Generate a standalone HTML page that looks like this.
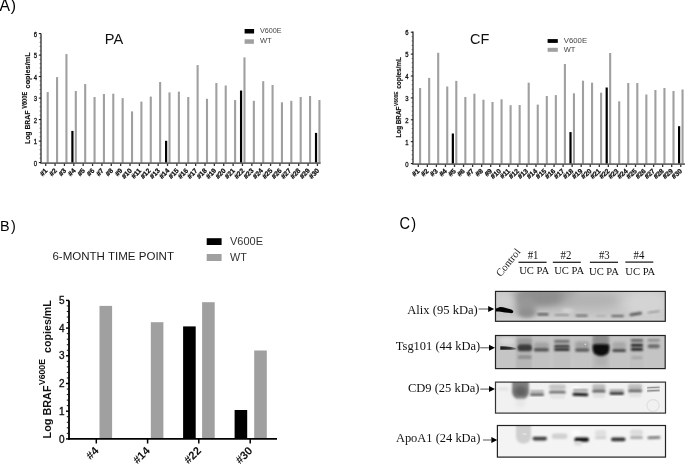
<!DOCTYPE html>
<html><head><meta charset="utf-8"><style>
html,body{margin:0;padding:0;background:#fff;}
svg{display:block;will-change:transform;}
text{font-family:"Liberation Sans", sans-serif;}
.serif{font-family:"Liberation Serif", serif;}
</style></head><body>
<svg width="685" height="464" viewBox="0 0 685 464">
<defs>
<filter id="b05" x="-50%" y="-50%" width="200%" height="200%"><feGaussianBlur stdDeviation="0.5"/></filter>
<filter id="b08" x="-50%" y="-50%" width="200%" height="200%"><feGaussianBlur stdDeviation="0.8"/></filter>
<filter id="b1" x="-50%" y="-50%" width="200%" height="200%"><feGaussianBlur stdDeviation="1"/></filter>
<filter id="b15" x="-50%" y="-50%" width="200%" height="200%"><feGaussianBlur stdDeviation="1.5"/></filter>
<filter id="b2" x="-50%" y="-50%" width="200%" height="200%"><feGaussianBlur stdDeviation="2"/></filter>
<filter id="b3" x="-50%" y="-50%" width="200%" height="200%"><feGaussianBlur stdDeviation="3"/></filter>
<filter id="b5" x="-50%" y="-50%" width="200%" height="200%"><feGaussianBlur stdDeviation="5"/></filter>
</defs>
<rect width="685" height="464" fill="#fff"/>

<text x="-0.6" y="10.7" font-size="15.8" letter-spacing="0.9" fill="#000">A)</text>
<text x="0" y="0" font-size="14.4" letter-spacing="1.4" fill="#000" transform="translate(0 231.1) scale(1 1.06)">B)</text>
<text x="0" y="0" font-size="14.6" letter-spacing="1.2" fill="#000" transform="translate(399.6 229.0) scale(1 1.07)">C)</text>
<rect x="46.65" y="92.06" width="2.1" height="71.14" fill="#a0a0a0"/>
<rect x="56.02" y="77.10" width="2.1" height="86.10" fill="#a0a0a0"/>
<rect x="65.39" y="54.05" width="2.1" height="109.15" fill="#a0a0a0"/>
<rect x="74.76" y="91.00" width="2.1" height="72.20" fill="#a0a0a0"/>
<rect x="84.13" y="84.06" width="2.1" height="79.14" fill="#a0a0a0"/>
<rect x="93.50" y="97.00" width="2.1" height="66.20" fill="#a0a0a0"/>
<rect x="102.87" y="94.00" width="2.1" height="69.20" fill="#a0a0a0"/>
<rect x="112.24" y="93.70" width="2.1" height="69.50" fill="#a0a0a0"/>
<rect x="121.61" y="98.10" width="2.1" height="65.10" fill="#a0a0a0"/>
<rect x="130.98" y="111.40" width="2.1" height="51.80" fill="#a0a0a0"/>
<rect x="140.35" y="101.60" width="2.1" height="61.60" fill="#a0a0a0"/>
<rect x="149.72" y="96.60" width="2.1" height="66.60" fill="#a0a0a0"/>
<rect x="159.09" y="82.00" width="2.1" height="81.20" fill="#a0a0a0"/>
<rect x="168.46" y="92.40" width="2.1" height="70.80" fill="#a0a0a0"/>
<rect x="177.83" y="91.60" width="2.1" height="71.60" fill="#a0a0a0"/>
<rect x="187.20" y="97.00" width="2.1" height="66.20" fill="#a0a0a0"/>
<rect x="196.57" y="65.10" width="2.1" height="98.10" fill="#a0a0a0"/>
<rect x="205.94" y="98.80" width="2.1" height="64.40" fill="#a0a0a0"/>
<rect x="215.31" y="83.00" width="2.1" height="80.20" fill="#a0a0a0"/>
<rect x="224.68" y="85.50" width="2.1" height="77.70" fill="#a0a0a0"/>
<rect x="234.05" y="100.05" width="2.1" height="63.15" fill="#a0a0a0"/>
<rect x="243.42" y="57.40" width="2.1" height="105.80" fill="#a0a0a0"/>
<rect x="252.79" y="100.80" width="2.1" height="62.40" fill="#a0a0a0"/>
<rect x="262.16" y="81.20" width="2.1" height="82.00" fill="#a0a0a0"/>
<rect x="271.53" y="85.00" width="2.1" height="78.20" fill="#a0a0a0"/>
<rect x="280.90" y="102.30" width="2.1" height="60.90" fill="#a0a0a0"/>
<rect x="290.27" y="100.80" width="2.1" height="62.40" fill="#a0a0a0"/>
<rect x="299.64" y="97.00" width="2.1" height="66.20" fill="#a0a0a0"/>
<rect x="309.01" y="96.00" width="2.1" height="67.20" fill="#a0a0a0"/>
<rect x="318.38" y="100.05" width="2.1" height="63.15" fill="#a0a0a0"/>
<rect x="71.31" y="130.90" width="2.2" height="32.30" fill="#000"/>
<rect x="165.01" y="140.80" width="2.2" height="22.40" fill="#000"/>
<rect x="239.97" y="90.55" width="2.2" height="72.65" fill="#000"/>
<rect x="314.93" y="132.90" width="2.2" height="30.30" fill="#000"/>
<line x1="41.0" y1="33.4" x2="41.0" y2="163.2" stroke="#1a1a1a" stroke-width="1.2"/>
<line x1="40.4" y1="163.2" x2="320.6" y2="163.2" stroke="#6a6a6a" stroke-width="1.7"/>
<line x1="38.8" y1="162.60" x2="41.0" y2="162.60" stroke="#111" stroke-width="1"/>
<text x="37.0" y="165.50" font-size="7.0" text-anchor="end" fill="#111" stroke="#111" stroke-width="0.3" textLength="3.3" lengthAdjust="spacingAndGlyphs">0</text>
<line x1="39.6" y1="158.30" x2="41.0" y2="158.30" stroke="#444" stroke-width="0.7"/>
<line x1="39.6" y1="154.00" x2="41.0" y2="154.00" stroke="#444" stroke-width="0.7"/>
<line x1="39.6" y1="149.70" x2="41.0" y2="149.70" stroke="#444" stroke-width="0.7"/>
<line x1="39.6" y1="145.40" x2="41.0" y2="145.40" stroke="#444" stroke-width="0.7"/>
<line x1="38.8" y1="141.10" x2="41.0" y2="141.10" stroke="#111" stroke-width="1"/>
<text x="37.0" y="144.00" font-size="7.0" text-anchor="end" fill="#111" stroke="#111" stroke-width="0.3" textLength="3.3" lengthAdjust="spacingAndGlyphs">1</text>
<line x1="39.6" y1="136.80" x2="41.0" y2="136.80" stroke="#444" stroke-width="0.7"/>
<line x1="39.6" y1="132.50" x2="41.0" y2="132.50" stroke="#444" stroke-width="0.7"/>
<line x1="39.6" y1="128.20" x2="41.0" y2="128.20" stroke="#444" stroke-width="0.7"/>
<line x1="39.6" y1="123.90" x2="41.0" y2="123.90" stroke="#444" stroke-width="0.7"/>
<line x1="38.8" y1="119.60" x2="41.0" y2="119.60" stroke="#111" stroke-width="1"/>
<text x="37.0" y="122.50" font-size="7.0" text-anchor="end" fill="#111" stroke="#111" stroke-width="0.3" textLength="3.3" lengthAdjust="spacingAndGlyphs">2</text>
<line x1="39.6" y1="115.30" x2="41.0" y2="115.30" stroke="#444" stroke-width="0.7"/>
<line x1="39.6" y1="111.00" x2="41.0" y2="111.00" stroke="#444" stroke-width="0.7"/>
<line x1="39.6" y1="106.70" x2="41.0" y2="106.70" stroke="#444" stroke-width="0.7"/>
<line x1="39.6" y1="102.40" x2="41.0" y2="102.40" stroke="#444" stroke-width="0.7"/>
<line x1="38.8" y1="98.10" x2="41.0" y2="98.10" stroke="#111" stroke-width="1"/>
<text x="37.0" y="101.00" font-size="7.0" text-anchor="end" fill="#111" stroke="#111" stroke-width="0.3" textLength="3.3" lengthAdjust="spacingAndGlyphs">3</text>
<line x1="39.6" y1="93.80" x2="41.0" y2="93.80" stroke="#444" stroke-width="0.7"/>
<line x1="39.6" y1="89.50" x2="41.0" y2="89.50" stroke="#444" stroke-width="0.7"/>
<line x1="39.6" y1="85.20" x2="41.0" y2="85.20" stroke="#444" stroke-width="0.7"/>
<line x1="39.6" y1="80.90" x2="41.0" y2="80.90" stroke="#444" stroke-width="0.7"/>
<line x1="38.8" y1="76.60" x2="41.0" y2="76.60" stroke="#111" stroke-width="1"/>
<text x="37.0" y="79.50" font-size="7.0" text-anchor="end" fill="#111" stroke="#111" stroke-width="0.3" textLength="3.3" lengthAdjust="spacingAndGlyphs">4</text>
<line x1="39.6" y1="72.30" x2="41.0" y2="72.30" stroke="#444" stroke-width="0.7"/>
<line x1="39.6" y1="68.00" x2="41.0" y2="68.00" stroke="#444" stroke-width="0.7"/>
<line x1="39.6" y1="63.70" x2="41.0" y2="63.70" stroke="#444" stroke-width="0.7"/>
<line x1="39.6" y1="59.40" x2="41.0" y2="59.40" stroke="#444" stroke-width="0.7"/>
<line x1="38.8" y1="55.10" x2="41.0" y2="55.10" stroke="#111" stroke-width="1"/>
<text x="37.0" y="58.00" font-size="7.0" text-anchor="end" fill="#111" stroke="#111" stroke-width="0.3" textLength="3.3" lengthAdjust="spacingAndGlyphs">5</text>
<line x1="39.6" y1="50.80" x2="41.0" y2="50.80" stroke="#444" stroke-width="0.7"/>
<line x1="39.6" y1="46.50" x2="41.0" y2="46.50" stroke="#444" stroke-width="0.7"/>
<line x1="39.6" y1="42.20" x2="41.0" y2="42.20" stroke="#444" stroke-width="0.7"/>
<line x1="39.6" y1="37.90" x2="41.0" y2="37.90" stroke="#444" stroke-width="0.7"/>
<line x1="38.8" y1="33.60" x2="41.0" y2="33.60" stroke="#111" stroke-width="1"/>
<text x="37.0" y="36.50" font-size="7.0" text-anchor="end" fill="#111" stroke="#111" stroke-width="0.3" textLength="3.3" lengthAdjust="spacingAndGlyphs">6</text>
<line x1="45.70" y1="163.6" x2="45.70" y2="166.0" stroke="#333" stroke-width="1.3"/>
<text x="48.00" y="171.10" font-size="6.8" font-weight="bold" text-anchor="end" fill="#111" stroke="#111" stroke-width="0.25" transform="rotate(-46 48.00 171.10)">#1</text>
<line x1="55.07" y1="163.6" x2="55.07" y2="166.0" stroke="#333" stroke-width="1.3"/>
<text x="57.37" y="171.10" font-size="6.8" font-weight="bold" text-anchor="end" fill="#111" stroke="#111" stroke-width="0.25" transform="rotate(-46 57.37 171.10)">#2</text>
<line x1="64.44" y1="163.6" x2="64.44" y2="166.0" stroke="#333" stroke-width="1.3"/>
<text x="66.74" y="171.10" font-size="6.8" font-weight="bold" text-anchor="end" fill="#111" stroke="#111" stroke-width="0.25" transform="rotate(-46 66.74 171.10)">#3</text>
<line x1="73.81" y1="163.6" x2="73.81" y2="166.0" stroke="#333" stroke-width="1.3"/>
<text x="76.11" y="171.10" font-size="6.8" font-weight="bold" text-anchor="end" fill="#111" stroke="#111" stroke-width="0.25" transform="rotate(-46 76.11 171.10)">#4</text>
<line x1="83.18" y1="163.6" x2="83.18" y2="166.0" stroke="#333" stroke-width="1.3"/>
<text x="85.48" y="171.10" font-size="6.8" font-weight="bold" text-anchor="end" fill="#111" stroke="#111" stroke-width="0.25" transform="rotate(-46 85.48 171.10)">#5</text>
<line x1="92.55" y1="163.6" x2="92.55" y2="166.0" stroke="#333" stroke-width="1.3"/>
<text x="94.85" y="171.10" font-size="6.8" font-weight="bold" text-anchor="end" fill="#111" stroke="#111" stroke-width="0.25" transform="rotate(-46 94.85 171.10)">#6</text>
<line x1="101.92" y1="163.6" x2="101.92" y2="166.0" stroke="#333" stroke-width="1.3"/>
<text x="104.22" y="171.10" font-size="6.8" font-weight="bold" text-anchor="end" fill="#111" stroke="#111" stroke-width="0.25" transform="rotate(-46 104.22 171.10)">#7</text>
<line x1="111.29" y1="163.6" x2="111.29" y2="166.0" stroke="#333" stroke-width="1.3"/>
<text x="113.59" y="171.10" font-size="6.8" font-weight="bold" text-anchor="end" fill="#111" stroke="#111" stroke-width="0.25" transform="rotate(-46 113.59 171.10)">#8</text>
<line x1="120.66" y1="163.6" x2="120.66" y2="166.0" stroke="#333" stroke-width="1.3"/>
<text x="122.96" y="171.10" font-size="6.8" font-weight="bold" text-anchor="end" fill="#111" stroke="#111" stroke-width="0.25" transform="rotate(-46 122.96 171.10)">#9</text>
<line x1="130.03" y1="163.6" x2="130.03" y2="166.0" stroke="#333" stroke-width="1.3"/>
<text x="132.33" y="171.10" font-size="6.8" font-weight="bold" text-anchor="end" fill="#111" stroke="#111" stroke-width="0.25" transform="rotate(-46 132.33 171.10)">#10</text>
<line x1="139.40" y1="163.6" x2="139.40" y2="166.0" stroke="#333" stroke-width="1.3"/>
<text x="141.70" y="171.10" font-size="6.8" font-weight="bold" text-anchor="end" fill="#111" stroke="#111" stroke-width="0.25" transform="rotate(-46 141.70 171.10)">#11</text>
<line x1="148.77" y1="163.6" x2="148.77" y2="166.0" stroke="#333" stroke-width="1.3"/>
<text x="151.07" y="171.10" font-size="6.8" font-weight="bold" text-anchor="end" fill="#111" stroke="#111" stroke-width="0.25" transform="rotate(-46 151.07 171.10)">#12</text>
<line x1="158.14" y1="163.6" x2="158.14" y2="166.0" stroke="#333" stroke-width="1.3"/>
<text x="160.44" y="171.10" font-size="6.8" font-weight="bold" text-anchor="end" fill="#111" stroke="#111" stroke-width="0.25" transform="rotate(-46 160.44 171.10)">#13</text>
<line x1="167.51" y1="163.6" x2="167.51" y2="166.0" stroke="#333" stroke-width="1.3"/>
<text x="169.81" y="171.10" font-size="6.8" font-weight="bold" text-anchor="end" fill="#111" stroke="#111" stroke-width="0.25" transform="rotate(-46 169.81 171.10)">#14</text>
<line x1="176.88" y1="163.6" x2="176.88" y2="166.0" stroke="#333" stroke-width="1.3"/>
<text x="179.18" y="171.10" font-size="6.8" font-weight="bold" text-anchor="end" fill="#111" stroke="#111" stroke-width="0.25" transform="rotate(-46 179.18 171.10)">#15</text>
<line x1="186.25" y1="163.6" x2="186.25" y2="166.0" stroke="#333" stroke-width="1.3"/>
<text x="188.55" y="171.10" font-size="6.8" font-weight="bold" text-anchor="end" fill="#111" stroke="#111" stroke-width="0.25" transform="rotate(-46 188.55 171.10)">#16</text>
<line x1="195.62" y1="163.6" x2="195.62" y2="166.0" stroke="#333" stroke-width="1.3"/>
<text x="197.92" y="171.10" font-size="6.8" font-weight="bold" text-anchor="end" fill="#111" stroke="#111" stroke-width="0.25" transform="rotate(-46 197.92 171.10)">#17</text>
<line x1="204.99" y1="163.6" x2="204.99" y2="166.0" stroke="#333" stroke-width="1.3"/>
<text x="207.29" y="171.10" font-size="6.8" font-weight="bold" text-anchor="end" fill="#111" stroke="#111" stroke-width="0.25" transform="rotate(-46 207.29 171.10)">#18</text>
<line x1="214.36" y1="163.6" x2="214.36" y2="166.0" stroke="#333" stroke-width="1.3"/>
<text x="216.66" y="171.10" font-size="6.8" font-weight="bold" text-anchor="end" fill="#111" stroke="#111" stroke-width="0.25" transform="rotate(-46 216.66 171.10)">#19</text>
<line x1="223.73" y1="163.6" x2="223.73" y2="166.0" stroke="#333" stroke-width="1.3"/>
<text x="226.03" y="171.10" font-size="6.8" font-weight="bold" text-anchor="end" fill="#111" stroke="#111" stroke-width="0.25" transform="rotate(-46 226.03 171.10)">#20</text>
<line x1="233.10" y1="163.6" x2="233.10" y2="166.0" stroke="#333" stroke-width="1.3"/>
<text x="235.40" y="171.10" font-size="6.8" font-weight="bold" text-anchor="end" fill="#111" stroke="#111" stroke-width="0.25" transform="rotate(-46 235.40 171.10)">#21</text>
<line x1="242.47" y1="163.6" x2="242.47" y2="166.0" stroke="#333" stroke-width="1.3"/>
<text x="244.77" y="171.10" font-size="6.8" font-weight="bold" text-anchor="end" fill="#111" stroke="#111" stroke-width="0.25" transform="rotate(-46 244.77 171.10)">#22</text>
<line x1="251.84" y1="163.6" x2="251.84" y2="166.0" stroke="#333" stroke-width="1.3"/>
<text x="254.14" y="171.10" font-size="6.8" font-weight="bold" text-anchor="end" fill="#111" stroke="#111" stroke-width="0.25" transform="rotate(-46 254.14 171.10)">#23</text>
<line x1="261.21" y1="163.6" x2="261.21" y2="166.0" stroke="#333" stroke-width="1.3"/>
<text x="263.51" y="171.10" font-size="6.8" font-weight="bold" text-anchor="end" fill="#111" stroke="#111" stroke-width="0.25" transform="rotate(-46 263.51 171.10)">#24</text>
<line x1="270.58" y1="163.6" x2="270.58" y2="166.0" stroke="#333" stroke-width="1.3"/>
<text x="272.88" y="171.10" font-size="6.8" font-weight="bold" text-anchor="end" fill="#111" stroke="#111" stroke-width="0.25" transform="rotate(-46 272.88 171.10)">#25</text>
<line x1="279.95" y1="163.6" x2="279.95" y2="166.0" stroke="#333" stroke-width="1.3"/>
<text x="282.25" y="171.10" font-size="6.8" font-weight="bold" text-anchor="end" fill="#111" stroke="#111" stroke-width="0.25" transform="rotate(-46 282.25 171.10)">#26</text>
<line x1="289.32" y1="163.6" x2="289.32" y2="166.0" stroke="#333" stroke-width="1.3"/>
<text x="291.62" y="171.10" font-size="6.8" font-weight="bold" text-anchor="end" fill="#111" stroke="#111" stroke-width="0.25" transform="rotate(-46 291.62 171.10)">#27</text>
<line x1="298.69" y1="163.6" x2="298.69" y2="166.0" stroke="#333" stroke-width="1.3"/>
<text x="300.99" y="171.10" font-size="6.8" font-weight="bold" text-anchor="end" fill="#111" stroke="#111" stroke-width="0.25" transform="rotate(-46 300.99 171.10)">#28</text>
<line x1="308.06" y1="163.6" x2="308.06" y2="166.0" stroke="#333" stroke-width="1.3"/>
<text x="310.36" y="171.10" font-size="6.8" font-weight="bold" text-anchor="end" fill="#111" stroke="#111" stroke-width="0.25" transform="rotate(-46 310.36 171.10)">#29</text>
<line x1="317.43" y1="163.6" x2="317.43" y2="166.0" stroke="#333" stroke-width="1.3"/>
<text x="319.73" y="171.10" font-size="6.8" font-weight="bold" text-anchor="end" fill="#111" stroke="#111" stroke-width="0.25" transform="rotate(-46 319.73 171.10)">#30</text>
<text x="0" y="0" font-size="7.8" font-weight="bold" fill="#111" stroke="#111" stroke-width="0.15" textLength="33.30" lengthAdjust="spacingAndGlyphs" transform="translate(30.4 144.0) rotate(-90)">Log BRAF</text>
<text x="0" y="0" font-size="6.6" font-weight="bold" fill="#111" stroke="#111" stroke-width="0.12" textLength="17.00" lengthAdjust="spacingAndGlyphs" transform="translate(27.1 108.8) rotate(-90)">V600E</text>
<text x="0" y="0" font-size="7.8" font-weight="bold" fill="#111" stroke="#111" stroke-width="0.15" textLength="36.00" lengthAdjust="spacingAndGlyphs" transform="translate(30.4 88.4) rotate(-90)">copies/mL</text>
<rect x="419.05" y="88.00" width="2.1" height="76.20" fill="#a0a0a0"/>
<rect x="428.10" y="77.90" width="2.1" height="86.30" fill="#a0a0a0"/>
<rect x="437.15" y="52.80" width="2.1" height="111.40" fill="#a0a0a0"/>
<rect x="446.20" y="86.50" width="2.1" height="77.70" fill="#a0a0a0"/>
<rect x="455.25" y="80.90" width="2.1" height="83.30" fill="#a0a0a0"/>
<rect x="464.30" y="97.00" width="2.1" height="67.20" fill="#a0a0a0"/>
<rect x="473.35" y="93.70" width="2.1" height="70.50" fill="#a0a0a0"/>
<rect x="482.40" y="99.75" width="2.1" height="64.45" fill="#a0a0a0"/>
<rect x="491.45" y="102.00" width="2.1" height="62.20" fill="#a0a0a0"/>
<rect x="500.50" y="99.30" width="2.1" height="64.90" fill="#a0a0a0"/>
<rect x="509.55" y="105.20" width="2.1" height="59.00" fill="#a0a0a0"/>
<rect x="518.60" y="105.00" width="2.1" height="59.20" fill="#a0a0a0"/>
<rect x="527.65" y="82.70" width="2.1" height="81.50" fill="#a0a0a0"/>
<rect x="536.70" y="104.60" width="2.1" height="59.60" fill="#a0a0a0"/>
<rect x="545.75" y="96.00" width="2.1" height="68.20" fill="#a0a0a0"/>
<rect x="554.80" y="95.10" width="2.1" height="69.10" fill="#a0a0a0"/>
<rect x="563.85" y="64.00" width="2.1" height="100.20" fill="#a0a0a0"/>
<rect x="572.90" y="93.30" width="2.1" height="70.90" fill="#a0a0a0"/>
<rect x="581.95" y="80.70" width="2.1" height="83.50" fill="#a0a0a0"/>
<rect x="591.00" y="82.70" width="2.1" height="81.50" fill="#a0a0a0"/>
<rect x="600.05" y="92.70" width="2.1" height="71.50" fill="#a0a0a0"/>
<rect x="609.10" y="53.00" width="2.1" height="111.20" fill="#a0a0a0"/>
<rect x="618.15" y="101.30" width="2.1" height="62.90" fill="#a0a0a0"/>
<rect x="627.20" y="83.00" width="2.1" height="81.20" fill="#a0a0a0"/>
<rect x="636.25" y="83.00" width="2.1" height="81.20" fill="#a0a0a0"/>
<rect x="645.30" y="94.50" width="2.1" height="69.70" fill="#a0a0a0"/>
<rect x="654.35" y="90.00" width="2.1" height="74.20" fill="#a0a0a0"/>
<rect x="663.40" y="88.00" width="2.1" height="76.20" fill="#a0a0a0"/>
<rect x="672.45" y="91.00" width="2.1" height="73.20" fill="#a0a0a0"/>
<rect x="681.50" y="89.50" width="2.1" height="74.70" fill="#a0a0a0"/>
<rect x="451.75" y="133.50" width="2.2" height="30.70" fill="#000"/>
<rect x="569.40" y="132.10" width="2.2" height="32.10" fill="#000"/>
<rect x="605.60" y="87.50" width="2.2" height="76.70" fill="#000"/>
<rect x="678.00" y="126.20" width="2.2" height="38.00" fill="#000"/>
<line x1="413.0" y1="31.6" x2="413.0" y2="164.2" stroke="#1a1a1a" stroke-width="1.2"/>
<line x1="412.4" y1="164.2" x2="686" y2="164.2" stroke="#6a6a6a" stroke-width="1.7"/>
<line x1="410.8" y1="163.60" x2="413.0" y2="163.60" stroke="#111" stroke-width="1"/>
<text x="408.6" y="166.50" font-size="7.0" text-anchor="end" fill="#111" stroke="#111" stroke-width="0.3" textLength="3.3" lengthAdjust="spacingAndGlyphs">0</text>
<line x1="411.6" y1="159.22" x2="413.0" y2="159.22" stroke="#444" stroke-width="0.7"/>
<line x1="411.6" y1="154.84" x2="413.0" y2="154.84" stroke="#444" stroke-width="0.7"/>
<line x1="411.6" y1="150.46" x2="413.0" y2="150.46" stroke="#444" stroke-width="0.7"/>
<line x1="411.6" y1="146.08" x2="413.0" y2="146.08" stroke="#444" stroke-width="0.7"/>
<line x1="410.8" y1="141.70" x2="413.0" y2="141.70" stroke="#111" stroke-width="1"/>
<text x="408.6" y="144.60" font-size="7.0" text-anchor="end" fill="#111" stroke="#111" stroke-width="0.3" textLength="3.3" lengthAdjust="spacingAndGlyphs">1</text>
<line x1="411.6" y1="137.32" x2="413.0" y2="137.32" stroke="#444" stroke-width="0.7"/>
<line x1="411.6" y1="132.94" x2="413.0" y2="132.94" stroke="#444" stroke-width="0.7"/>
<line x1="411.6" y1="128.56" x2="413.0" y2="128.56" stroke="#444" stroke-width="0.7"/>
<line x1="411.6" y1="124.18" x2="413.0" y2="124.18" stroke="#444" stroke-width="0.7"/>
<line x1="410.8" y1="119.80" x2="413.0" y2="119.80" stroke="#111" stroke-width="1"/>
<text x="408.6" y="122.70" font-size="7.0" text-anchor="end" fill="#111" stroke="#111" stroke-width="0.3" textLength="3.3" lengthAdjust="spacingAndGlyphs">2</text>
<line x1="411.6" y1="115.42" x2="413.0" y2="115.42" stroke="#444" stroke-width="0.7"/>
<line x1="411.6" y1="111.04" x2="413.0" y2="111.04" stroke="#444" stroke-width="0.7"/>
<line x1="411.6" y1="106.66" x2="413.0" y2="106.66" stroke="#444" stroke-width="0.7"/>
<line x1="411.6" y1="102.28" x2="413.0" y2="102.28" stroke="#444" stroke-width="0.7"/>
<line x1="410.8" y1="97.90" x2="413.0" y2="97.90" stroke="#111" stroke-width="1"/>
<text x="408.6" y="100.80" font-size="7.0" text-anchor="end" fill="#111" stroke="#111" stroke-width="0.3" textLength="3.3" lengthAdjust="spacingAndGlyphs">3</text>
<line x1="411.6" y1="93.52" x2="413.0" y2="93.52" stroke="#444" stroke-width="0.7"/>
<line x1="411.6" y1="89.14" x2="413.0" y2="89.14" stroke="#444" stroke-width="0.7"/>
<line x1="411.6" y1="84.76" x2="413.0" y2="84.76" stroke="#444" stroke-width="0.7"/>
<line x1="411.6" y1="80.38" x2="413.0" y2="80.38" stroke="#444" stroke-width="0.7"/>
<line x1="410.8" y1="76.00" x2="413.0" y2="76.00" stroke="#111" stroke-width="1"/>
<text x="408.6" y="78.90" font-size="7.0" text-anchor="end" fill="#111" stroke="#111" stroke-width="0.3" textLength="3.3" lengthAdjust="spacingAndGlyphs">4</text>
<line x1="411.6" y1="71.62" x2="413.0" y2="71.62" stroke="#444" stroke-width="0.7"/>
<line x1="411.6" y1="67.24" x2="413.0" y2="67.24" stroke="#444" stroke-width="0.7"/>
<line x1="411.6" y1="62.86" x2="413.0" y2="62.86" stroke="#444" stroke-width="0.7"/>
<line x1="411.6" y1="58.48" x2="413.0" y2="58.48" stroke="#444" stroke-width="0.7"/>
<line x1="410.8" y1="54.10" x2="413.0" y2="54.10" stroke="#111" stroke-width="1"/>
<text x="408.6" y="57.00" font-size="7.0" text-anchor="end" fill="#111" stroke="#111" stroke-width="0.3" textLength="3.3" lengthAdjust="spacingAndGlyphs">5</text>
<line x1="411.6" y1="49.72" x2="413.0" y2="49.72" stroke="#444" stroke-width="0.7"/>
<line x1="411.6" y1="45.34" x2="413.0" y2="45.34" stroke="#444" stroke-width="0.7"/>
<line x1="411.6" y1="40.96" x2="413.0" y2="40.96" stroke="#444" stroke-width="0.7"/>
<line x1="411.6" y1="36.58" x2="413.0" y2="36.58" stroke="#444" stroke-width="0.7"/>
<line x1="410.8" y1="32.20" x2="413.0" y2="32.20" stroke="#111" stroke-width="1"/>
<text x="408.6" y="35.10" font-size="7.0" text-anchor="end" fill="#111" stroke="#111" stroke-width="0.3" textLength="3.3" lengthAdjust="spacingAndGlyphs">6</text>
<line x1="418.30" y1="164.6" x2="418.30" y2="167.0" stroke="#333" stroke-width="1.3"/>
<text x="420.10" y="171.60" font-size="6.8" font-weight="bold" text-anchor="end" fill="#111" stroke="#111" stroke-width="0.25" transform="rotate(-42 420.10 171.60)">#1</text>
<line x1="427.35" y1="164.6" x2="427.35" y2="167.0" stroke="#333" stroke-width="1.3"/>
<text x="429.15" y="171.60" font-size="6.8" font-weight="bold" text-anchor="end" fill="#111" stroke="#111" stroke-width="0.25" transform="rotate(-42 429.15 171.60)">#2</text>
<line x1="436.40" y1="164.6" x2="436.40" y2="167.0" stroke="#333" stroke-width="1.3"/>
<text x="438.20" y="171.60" font-size="6.8" font-weight="bold" text-anchor="end" fill="#111" stroke="#111" stroke-width="0.25" transform="rotate(-42 438.20 171.60)">#3</text>
<line x1="445.45" y1="164.6" x2="445.45" y2="167.0" stroke="#333" stroke-width="1.3"/>
<text x="447.25" y="171.60" font-size="6.8" font-weight="bold" text-anchor="end" fill="#111" stroke="#111" stroke-width="0.25" transform="rotate(-42 447.25 171.60)">#4</text>
<line x1="454.50" y1="164.6" x2="454.50" y2="167.0" stroke="#333" stroke-width="1.3"/>
<text x="456.30" y="171.60" font-size="6.8" font-weight="bold" text-anchor="end" fill="#111" stroke="#111" stroke-width="0.25" transform="rotate(-42 456.30 171.60)">#5</text>
<line x1="463.55" y1="164.6" x2="463.55" y2="167.0" stroke="#333" stroke-width="1.3"/>
<text x="465.35" y="171.60" font-size="6.8" font-weight="bold" text-anchor="end" fill="#111" stroke="#111" stroke-width="0.25" transform="rotate(-42 465.35 171.60)">#6</text>
<line x1="472.60" y1="164.6" x2="472.60" y2="167.0" stroke="#333" stroke-width="1.3"/>
<text x="474.40" y="171.60" font-size="6.8" font-weight="bold" text-anchor="end" fill="#111" stroke="#111" stroke-width="0.25" transform="rotate(-42 474.40 171.60)">#7</text>
<line x1="481.65" y1="164.6" x2="481.65" y2="167.0" stroke="#333" stroke-width="1.3"/>
<text x="483.45" y="171.60" font-size="6.8" font-weight="bold" text-anchor="end" fill="#111" stroke="#111" stroke-width="0.25" transform="rotate(-42 483.45 171.60)">#8</text>
<line x1="490.70" y1="164.6" x2="490.70" y2="167.0" stroke="#333" stroke-width="1.3"/>
<text x="492.50" y="171.60" font-size="6.8" font-weight="bold" text-anchor="end" fill="#111" stroke="#111" stroke-width="0.25" transform="rotate(-42 492.50 171.60)">#9</text>
<line x1="499.75" y1="164.6" x2="499.75" y2="167.0" stroke="#333" stroke-width="1.3"/>
<text x="501.55" y="171.60" font-size="6.8" font-weight="bold" text-anchor="end" fill="#111" stroke="#111" stroke-width="0.25" transform="rotate(-42 501.55 171.60)">#10</text>
<line x1="508.80" y1="164.6" x2="508.80" y2="167.0" stroke="#333" stroke-width="1.3"/>
<text x="510.60" y="171.60" font-size="6.8" font-weight="bold" text-anchor="end" fill="#111" stroke="#111" stroke-width="0.25" transform="rotate(-42 510.60 171.60)">#11</text>
<line x1="517.85" y1="164.6" x2="517.85" y2="167.0" stroke="#333" stroke-width="1.3"/>
<text x="519.65" y="171.60" font-size="6.8" font-weight="bold" text-anchor="end" fill="#111" stroke="#111" stroke-width="0.25" transform="rotate(-42 519.65 171.60)">#12</text>
<line x1="526.90" y1="164.6" x2="526.90" y2="167.0" stroke="#333" stroke-width="1.3"/>
<text x="528.70" y="171.60" font-size="6.8" font-weight="bold" text-anchor="end" fill="#111" stroke="#111" stroke-width="0.25" transform="rotate(-42 528.70 171.60)">#13</text>
<line x1="535.95" y1="164.6" x2="535.95" y2="167.0" stroke="#333" stroke-width="1.3"/>
<text x="537.75" y="171.60" font-size="6.8" font-weight="bold" text-anchor="end" fill="#111" stroke="#111" stroke-width="0.25" transform="rotate(-42 537.75 171.60)">#14</text>
<line x1="545.00" y1="164.6" x2="545.00" y2="167.0" stroke="#333" stroke-width="1.3"/>
<text x="546.80" y="171.60" font-size="6.8" font-weight="bold" text-anchor="end" fill="#111" stroke="#111" stroke-width="0.25" transform="rotate(-42 546.80 171.60)">#15</text>
<line x1="554.05" y1="164.6" x2="554.05" y2="167.0" stroke="#333" stroke-width="1.3"/>
<text x="555.85" y="171.60" font-size="6.8" font-weight="bold" text-anchor="end" fill="#111" stroke="#111" stroke-width="0.25" transform="rotate(-42 555.85 171.60)">#16</text>
<line x1="563.10" y1="164.6" x2="563.10" y2="167.0" stroke="#333" stroke-width="1.3"/>
<text x="564.90" y="171.60" font-size="6.8" font-weight="bold" text-anchor="end" fill="#111" stroke="#111" stroke-width="0.25" transform="rotate(-42 564.90 171.60)">#17</text>
<line x1="572.15" y1="164.6" x2="572.15" y2="167.0" stroke="#333" stroke-width="1.3"/>
<text x="573.95" y="171.60" font-size="6.8" font-weight="bold" text-anchor="end" fill="#111" stroke="#111" stroke-width="0.25" transform="rotate(-42 573.95 171.60)">#18</text>
<line x1="581.20" y1="164.6" x2="581.20" y2="167.0" stroke="#333" stroke-width="1.3"/>
<text x="583.00" y="171.60" font-size="6.8" font-weight="bold" text-anchor="end" fill="#111" stroke="#111" stroke-width="0.25" transform="rotate(-42 583.00 171.60)">#19</text>
<line x1="590.25" y1="164.6" x2="590.25" y2="167.0" stroke="#333" stroke-width="1.3"/>
<text x="592.05" y="171.60" font-size="6.8" font-weight="bold" text-anchor="end" fill="#111" stroke="#111" stroke-width="0.25" transform="rotate(-42 592.05 171.60)">#20</text>
<line x1="599.30" y1="164.6" x2="599.30" y2="167.0" stroke="#333" stroke-width="1.3"/>
<text x="601.10" y="171.60" font-size="6.8" font-weight="bold" text-anchor="end" fill="#111" stroke="#111" stroke-width="0.25" transform="rotate(-42 601.10 171.60)">#21</text>
<line x1="608.35" y1="164.6" x2="608.35" y2="167.0" stroke="#333" stroke-width="1.3"/>
<text x="610.15" y="171.60" font-size="6.8" font-weight="bold" text-anchor="end" fill="#111" stroke="#111" stroke-width="0.25" transform="rotate(-42 610.15 171.60)">#22</text>
<line x1="617.40" y1="164.6" x2="617.40" y2="167.0" stroke="#333" stroke-width="1.3"/>
<text x="619.20" y="171.60" font-size="6.8" font-weight="bold" text-anchor="end" fill="#111" stroke="#111" stroke-width="0.25" transform="rotate(-42 619.20 171.60)">#23</text>
<line x1="626.45" y1="164.6" x2="626.45" y2="167.0" stroke="#333" stroke-width="1.3"/>
<text x="628.25" y="171.60" font-size="6.8" font-weight="bold" text-anchor="end" fill="#111" stroke="#111" stroke-width="0.25" transform="rotate(-42 628.25 171.60)">#24</text>
<line x1="635.50" y1="164.6" x2="635.50" y2="167.0" stroke="#333" stroke-width="1.3"/>
<text x="637.30" y="171.60" font-size="6.8" font-weight="bold" text-anchor="end" fill="#111" stroke="#111" stroke-width="0.25" transform="rotate(-42 637.30 171.60)">#25</text>
<line x1="644.55" y1="164.6" x2="644.55" y2="167.0" stroke="#333" stroke-width="1.3"/>
<text x="646.35" y="171.60" font-size="6.8" font-weight="bold" text-anchor="end" fill="#111" stroke="#111" stroke-width="0.25" transform="rotate(-42 646.35 171.60)">#26</text>
<line x1="653.60" y1="164.6" x2="653.60" y2="167.0" stroke="#333" stroke-width="1.3"/>
<text x="655.40" y="171.60" font-size="6.8" font-weight="bold" text-anchor="end" fill="#111" stroke="#111" stroke-width="0.25" transform="rotate(-42 655.40 171.60)">#27</text>
<line x1="662.65" y1="164.6" x2="662.65" y2="167.0" stroke="#333" stroke-width="1.3"/>
<text x="664.45" y="171.60" font-size="6.8" font-weight="bold" text-anchor="end" fill="#111" stroke="#111" stroke-width="0.25" transform="rotate(-42 664.45 171.60)">#28</text>
<line x1="671.70" y1="164.6" x2="671.70" y2="167.0" stroke="#333" stroke-width="1.3"/>
<text x="673.50" y="171.60" font-size="6.8" font-weight="bold" text-anchor="end" fill="#111" stroke="#111" stroke-width="0.25" transform="rotate(-42 673.50 171.60)">#29</text>
<line x1="680.75" y1="164.6" x2="680.75" y2="167.0" stroke="#333" stroke-width="1.3"/>
<text x="682.55" y="171.60" font-size="6.8" font-weight="bold" text-anchor="end" fill="#111" stroke="#111" stroke-width="0.25" transform="rotate(-42 682.55 171.60)">#30</text>
<text x="0" y="0" font-size="7.0" font-weight="bold" fill="#111" stroke="#111" stroke-width="0.15" textLength="31.00" lengthAdjust="spacingAndGlyphs" transform="translate(401.0 137.6) rotate(-90)">Log BRAF</text>
<text x="0" y="0" font-size="6.2" font-weight="bold" fill="#111" stroke="#111" stroke-width="0.12" textLength="14.50" lengthAdjust="spacingAndGlyphs" transform="translate(398.0 106.0) rotate(-90)">V600E</text>
<text x="0" y="0" font-size="7.0" font-weight="bold" fill="#111" stroke="#111" stroke-width="0.15" textLength="31.80" lengthAdjust="spacingAndGlyphs" transform="translate(401.0 88.8) rotate(-90)">copies/mL</text>
<text x="104.8" y="43.6" font-size="14.6" fill="#111">PA</text>
<text x="470.1" y="43.9" font-size="14.5" fill="#111">CF</text>
<rect x="244.6" y="29.0" width="9.5" height="4.5" fill="#000"/>
<rect x="244.6" y="39.3" width="9.3" height="4.5" fill="#a0a0a0"/>
<text x="259.9" y="33.1" font-size="7.6" fill="#444" textLength="21.7" lengthAdjust="spacingAndGlyphs">V600E</text>
<text x="259.9" y="43.3" font-size="7.6" fill="#444">WT</text>
<rect x="547.6" y="39.1" width="10.2" height="3.8" fill="#000"/>
<rect x="547.6" y="47.8" width="10.2" height="4.0" fill="#a0a0a0"/>
<text x="563.7" y="43.2" font-size="7.5" fill="#444" textLength="23.4" lengthAdjust="spacingAndGlyphs">V600E</text>
<text x="563.7" y="52.1" font-size="7.5" fill="#444">WT</text>
<rect x="99.50" y="305.9" width="12.6" height="133.00" fill="#a0a0a0"/>
<rect x="150.80" y="322.2" width="12.6" height="116.70" fill="#a0a0a0"/>
<rect x="202.10" y="302.2" width="12.6" height="136.70" fill="#a0a0a0"/>
<rect x="254.20" y="350.5" width="12.6" height="88.40" fill="#a0a0a0"/>
<rect x="183.10" y="326.4" width="12.6" height="112.50" fill="#000"/>
<rect x="234.60" y="410.0" width="12.6" height="28.90" fill="#000"/>
<line x1="69.0" y1="300.6" x2="69.0" y2="439.79999999999995" stroke="#000" stroke-width="1.8"/>
<line x1="68.1" y1="438.9" x2="277" y2="438.9" stroke="#000" stroke-width="1.7"/>
<line x1="66.0" y1="438.90" x2="69.0" y2="438.90" stroke="#000" stroke-width="1.4"/>
<text x="64.5" y="442.50" font-size="10" text-anchor="end" fill="#111" stroke="#111" stroke-width="0.35">0</text>
<line x1="66.8" y1="433.36" x2="69.0" y2="433.36" stroke="#111" stroke-width="1"/>
<line x1="66.8" y1="427.82" x2="69.0" y2="427.82" stroke="#111" stroke-width="1"/>
<line x1="66.8" y1="422.28" x2="69.0" y2="422.28" stroke="#111" stroke-width="1"/>
<line x1="66.8" y1="416.74" x2="69.0" y2="416.74" stroke="#111" stroke-width="1"/>
<line x1="66.0" y1="411.20" x2="69.0" y2="411.20" stroke="#000" stroke-width="1.4"/>
<text x="64.5" y="414.80" font-size="10" text-anchor="end" fill="#111" stroke="#111" stroke-width="0.35">1</text>
<line x1="66.8" y1="405.66" x2="69.0" y2="405.66" stroke="#111" stroke-width="1"/>
<line x1="66.8" y1="400.12" x2="69.0" y2="400.12" stroke="#111" stroke-width="1"/>
<line x1="66.8" y1="394.58" x2="69.0" y2="394.58" stroke="#111" stroke-width="1"/>
<line x1="66.8" y1="389.04" x2="69.0" y2="389.04" stroke="#111" stroke-width="1"/>
<line x1="66.0" y1="383.50" x2="69.0" y2="383.50" stroke="#000" stroke-width="1.4"/>
<text x="64.5" y="387.10" font-size="10" text-anchor="end" fill="#111" stroke="#111" stroke-width="0.35">2</text>
<line x1="66.8" y1="377.96" x2="69.0" y2="377.96" stroke="#111" stroke-width="1"/>
<line x1="66.8" y1="372.42" x2="69.0" y2="372.42" stroke="#111" stroke-width="1"/>
<line x1="66.8" y1="366.88" x2="69.0" y2="366.88" stroke="#111" stroke-width="1"/>
<line x1="66.8" y1="361.34" x2="69.0" y2="361.34" stroke="#111" stroke-width="1"/>
<line x1="66.0" y1="355.80" x2="69.0" y2="355.80" stroke="#000" stroke-width="1.4"/>
<text x="64.5" y="359.40" font-size="10" text-anchor="end" fill="#111" stroke="#111" stroke-width="0.35">3</text>
<line x1="66.8" y1="350.26" x2="69.0" y2="350.26" stroke="#111" stroke-width="1"/>
<line x1="66.8" y1="344.72" x2="69.0" y2="344.72" stroke="#111" stroke-width="1"/>
<line x1="66.8" y1="339.18" x2="69.0" y2="339.18" stroke="#111" stroke-width="1"/>
<line x1="66.8" y1="333.64" x2="69.0" y2="333.64" stroke="#111" stroke-width="1"/>
<line x1="66.0" y1="328.10" x2="69.0" y2="328.10" stroke="#000" stroke-width="1.4"/>
<text x="64.5" y="331.70" font-size="10" text-anchor="end" fill="#111" stroke="#111" stroke-width="0.35">4</text>
<line x1="66.8" y1="322.56" x2="69.0" y2="322.56" stroke="#111" stroke-width="1"/>
<line x1="66.8" y1="317.02" x2="69.0" y2="317.02" stroke="#111" stroke-width="1"/>
<line x1="66.8" y1="311.48" x2="69.0" y2="311.48" stroke="#111" stroke-width="1"/>
<line x1="66.8" y1="305.94" x2="69.0" y2="305.94" stroke="#111" stroke-width="1"/>
<line x1="66.0" y1="300.40" x2="69.0" y2="300.40" stroke="#000" stroke-width="1.4"/>
<text x="64.5" y="304.00" font-size="10" text-anchor="end" fill="#111" stroke="#111" stroke-width="0.35">5</text>
<line x1="96.3" y1="438.9" x2="96.3" y2="443.5" stroke="#000" stroke-width="1.5"/>
<text x="99.30" y="451.40" font-size="11.2" font-weight="bold" text-anchor="end" fill="#111" transform="rotate(-45 99.30 451.40)">#4</text>
<line x1="147.6" y1="438.9" x2="147.6" y2="443.5" stroke="#000" stroke-width="1.5"/>
<text x="150.60" y="451.40" font-size="11.2" font-weight="bold" text-anchor="end" fill="#111" transform="rotate(-45 150.60 451.40)">#14</text>
<line x1="198.8" y1="438.9" x2="198.8" y2="443.5" stroke="#000" stroke-width="1.5"/>
<text x="201.80" y="451.40" font-size="11.2" font-weight="bold" text-anchor="end" fill="#111" transform="rotate(-45 201.80 451.40)">#22</text>
<line x1="250.2" y1="438.9" x2="250.2" y2="443.5" stroke="#000" stroke-width="1.5"/>
<text x="253.20" y="451.40" font-size="11.2" font-weight="bold" text-anchor="end" fill="#111" transform="rotate(-45 253.20 451.40)">#30</text>
<text x="0" y="0" font-size="10.8" font-weight="bold" fill="#111" textLength="53.1" lengthAdjust="spacingAndGlyphs" transform="translate(51 438.5) rotate(-90)">Log BRAF</text>
<text x="0" y="0" font-size="8.8" font-weight="bold" fill="#111" textLength="25.9" lengthAdjust="spacingAndGlyphs" transform="translate(44.9 385.0) rotate(-90)">V600E</text>
<text x="0" y="0" font-size="10.8" font-weight="bold" fill="#111" textLength="52.9" lengthAdjust="spacingAndGlyphs" transform="translate(51 353) rotate(-90)">copies/mL</text>
<text x="52.4" y="259.7" font-size="11.4" fill="#1a1a1a" textLength="121.6" lengthAdjust="spacingAndGlyphs">6-MONTH TIME POINT</text>
<rect x="206.7" y="238.2" width="14.9" height="6.8" fill="#000"/>
<rect x="206.7" y="254.0" width="14.9" height="7.0" fill="#a0a0a0"/>
<text x="230" y="245.0" font-size="10.8" fill="#333" textLength="33" lengthAdjust="spacingAndGlyphs">V600E</text>
<text x="230" y="260.8" font-size="10.8" fill="#333">WT</text>
<text class="serif" x="0" y="0" font-size="10.6" fill="#111" transform="translate(521.2 252.0) rotate(-51)" text-anchor="end">Control</text>
<text class="serif" x="0" y="0" font-size="10.8" fill="#111" text-anchor="middle" transform="translate(533.1 258.5) scale(1 1.2)">#1</text>
<line x1="518.5" y1="262.3" x2="546.6" y2="262.3" stroke="#222" stroke-width="1.3"/>
<text class="serif" x="519.2" y="273.6" font-size="10.6" fill="#111">UC PA</text>
<text class="serif" x="0" y="0" font-size="10.8" fill="#111" text-anchor="middle" transform="translate(565.9 258.5) scale(1 1.2)">#2</text>
<line x1="552.8" y1="262.3" x2="580.8" y2="262.3" stroke="#222" stroke-width="1.3"/>
<text class="serif" x="554.2" y="273.6" font-size="10.6" fill="#111">UC PA</text>
<text class="serif" x="0" y="0" font-size="10.8" fill="#111" text-anchor="middle" transform="translate(604.3 258.5) scale(1 1.2)">#3</text>
<line x1="589.9" y1="262.3" x2="618.0" y2="262.3" stroke="#222" stroke-width="1.3"/>
<text class="serif" x="589.0" y="274.6" font-size="10.6" fill="#111">UC PA</text>
<text class="serif" x="0" y="0" font-size="10.8" fill="#111" text-anchor="middle" transform="translate(638.9 259.2) scale(1 1.2)">#4</text>
<line x1="625.3" y1="262.1" x2="653.3" y2="262.1" stroke="#222" stroke-width="1.3"/>
<text class="serif" x="625.3" y="275.4" font-size="10.6" fill="#111">UC PA</text>
<text class="serif" x="407.3" y="313.8" font-size="13.2" fill="#111" textLength="70.5" lengthAdjust="spacingAndGlyphs">Alix (95 kDa)</text>
<text class="serif" x="395.8" y="350.3" font-size="13.2" fill="#111" textLength="84.3" lengthAdjust="spacingAndGlyphs">Tsg101 (44 kDa)</text>
<text class="serif" x="407.9" y="392.3" font-size="13.2" fill="#111" textLength="71.6" lengthAdjust="spacingAndGlyphs">CD9 (25 kDa)</text>
<text class="serif" x="395.9" y="441.5" font-size="13.2" fill="#111" textLength="84.4" lengthAdjust="spacingAndGlyphs">ApoA1 (24 kDa)</text>
<line x1="478.6" y1="309.0" x2="489" y2="309.0" stroke="#555" stroke-width="1"/>
<path d="M488.2 306.0 L494.2 309.0 L488.2 312.0 Z" fill="#000"/>
<line x1="480.2" y1="347.8" x2="489" y2="347.8" stroke="#555" stroke-width="1"/>
<path d="M489.0 344.8 L495.0 347.8 L489.0 350.8 Z" fill="#000"/>
<line x1="480.3" y1="389.1" x2="489" y2="389.1" stroke="#555" stroke-width="1"/>
<path d="M489.0 386.1 L495.0 389.1 L489.0 392.1 Z" fill="#000"/>
<line x1="483.0" y1="440.0" x2="491" y2="440.0" stroke="#555" stroke-width="1"/>
<path d="M491.3 437.0 L497.3 440.0 L491.3 443.0 Z" fill="#000"/>
<clipPath id="cA"><rect x="495.5" y="291.4" width="169.8" height="29.9"/></clipPath>
<g clip-path="url(#cA)">
<rect x="495.5" y="291.4" width="169.8" height="29.9" fill="#c6c6c6"/>
<ellipse cx="546" cy="296" rx="34" ry="10" fill="#969696" opacity="1" filter="url(#b5)"/>
<ellipse cx="540" cy="297" rx="22" ry="8" fill="#8e8e8e" opacity="1" filter="url(#b3)"/>
<ellipse cx="526" cy="307" rx="10" ry="12" fill="#969696" opacity="1" filter="url(#b3)"/>
<ellipse cx="568" cy="310.5" rx="6" ry="2.5" fill="#d6d6d6" opacity="1" filter="url(#b15)"/>
<ellipse cx="592" cy="300" rx="28" ry="9" fill="#b2b2b2" opacity="1" filter="url(#b5)"/>
<ellipse cx="646" cy="304" rx="22" ry="14" fill="#d4d4d4" opacity="1" filter="url(#b5)"/>
<ellipse cx="504" cy="301" rx="9" ry="8" fill="#cfcfcf" opacity="1" filter="url(#b3)"/>
<rect x="495.5" y="317.5" width="169.8" height="6" fill="#d0d0d0" filter="url(#b2)"/>
<ellipse cx="527" cy="313" rx="8" ry="4" fill="#8e8e8e" opacity="1" filter="url(#b2)"/>
<path d="M495.5 308.6 C497.5 308.4 498.5 307.0 500.5 307.0 C504 307.2 508 308.6 511.2 309.6 C513.8 310.4 514 313.0 511.5 313.2 C507 313.0 503 312.0 499 311.6 C497.5 311.4 496.5 311.4 495.5 311.4 Z" fill="#000" filter="url(#b05)"/>
<rect x="537.2" y="313.15" width="11.60" height="2.3" rx="1.15" fill="#555" filter="url(#b08)"/>
<rect x="554.5" y="314.00" width="14.50" height="2.0" rx="1.0" fill="#969696" filter="url(#b08)"/>
<rect x="575.5" y="314.55" width="12.30" height="2.1" rx="1.05" fill="#707070" filter="url(#b08)"/>
<rect x="596.0" y="315.10" width="10.00" height="1.6" rx="0.8" fill="#acacac" filter="url(#b08)"/>
<rect x="611.2" y="314.90" width="12.80" height="2.2" rx="1.1" fill="#626262" filter="url(#b08)"/>
<g transform="rotate(-9.00 635.75 314.00)"><rect x="629.5" y="312.70" width="12.50" height="2.6" rx="1.3" fill="#4a4a4a" filter="url(#b08)"/></g>
<g transform="rotate(-8.00 653.65 311.80)"><rect x="647.5" y="310.90" width="12.30" height="1.8" rx="0.9" fill="#959595" filter="url(#b08)"/></g>
</g>
<rect x="495.5" y="291.4" width="169.8" height="29.9" fill="none" stroke="#222" stroke-width="1.2"/>
<clipPath id="cT"><rect x="495.5" y="335.5" width="169.7" height="33.1"/></clipPath>
<g clip-path="url(#cT)">
<rect x="495.5" y="335.5" width="169.7" height="33.1" fill="#c5c5c5"/>
<rect x="516" y="333.50" width="16.00" height="37.1" rx="0" fill="#b6b6b6" filter="url(#b1)"/>
<rect x="533" y="333.50" width="16.50" height="37.1" rx="0" fill="#c2c2c2" filter="url(#b1)"/>
<rect x="553.5" y="333.50" width="16.50" height="37.1" rx="0" fill="#c0c0c0" filter="url(#b1)"/>
<rect x="574.5" y="333.50" width="15.50" height="37.1" rx="0" fill="#c4c4c4" filter="url(#b1)"/>
<rect x="592" y="333.50" width="17.50" height="37.1" rx="0" fill="#bbbbbb" filter="url(#b1)"/>
<rect x="612" y="333.50" width="14.50" height="37.1" rx="0" fill="#c4c4c4" filter="url(#b1)"/>
<rect x="630" y="333.50" width="13.50" height="37.1" rx="0" fill="#c0c0c0" filter="url(#b1)"/>
<rect x="647" y="333.50" width="13.00" height="37.1" rx="0" fill="#c4c4c4" filter="url(#b1)"/>
<ellipse cx="507" cy="341" rx="8" ry="4" fill="#d8d8d8" opacity="1" filter="url(#b15)"/>
<linearGradient id="gT" x1="0" x2="1" y1="0" y2="0"><stop offset="0" stop-color="#1a1a1a"/><stop offset="0.6" stop-color="#333"/><stop offset="1" stop-color="#7a7a7a"/></linearGradient>
<path d="M500.3 346.4 C505 346.2 511 347.0 515.8 348.0 L515.8 349.4 C511 349.8 505 349.9 500.3 349.8 Z" fill="url(#gT)" filter="url(#b05)"/>
<rect x="517.5" y="338.00" width="14.50" height="7" rx="3" fill="#9a9a9a" filter="url(#b15)"/>
<rect x="517.5" y="344.30" width="14.50" height="7.0" rx="3" fill="#3a3a3a" filter="url(#b1)"/>
<rect x="518.0" y="355.60" width="13.50" height="3.2" rx="1.6" fill="#8a8a8a" filter="url(#b1)"/>
<rect x="533.8" y="342.50" width="15.20" height="6" rx="3.0" fill="#a2a2a2" filter="url(#b15)"/>
<rect x="533.8" y="348.10" width="15.20" height="3.4" rx="1.7" fill="#525252" filter="url(#b08)"/>
<rect x="554.2" y="340.10" width="15.40" height="2.6" rx="1.3" fill="#6a6a6a" filter="url(#b08)"/>
<rect x="554.2" y="344.70" width="15.40" height="3.0" rx="1.5" fill="#3a3a3a" filter="url(#b08)"/>
<rect x="554.2" y="348.10" width="15.40" height="3.0" rx="1.5" fill="#303030" filter="url(#b08)"/>
<rect x="575.0" y="341.50" width="14.50" height="7" rx="3" fill="#a0a0a0" filter="url(#b15)"/>
<rect x="575.0" y="348.30" width="14.50" height="3.4" rx="1.7" fill="#5a5a5a" filter="url(#b08)"/>
<ellipse cx="585.3" cy="344.3" rx="0.9" ry="0.8" fill="#dedede" opacity="1" filter="url(#b05)"/>
<rect x="592.8" y="334.50" width="16.20" height="11" rx="4" fill="#8c8c8c" filter="url(#b15)"/>
<rect x="596.0" y="355.00" width="10.50" height="10" rx="3" fill="#b0b0b0" filter="url(#b15)"/>
<path d="M592.6 345 C592.6 343.8 609.4 343.8 609.4 345 L609.4 349 C609.4 354 605 356 601 356 C597 356 592.6 354 592.6 349 Z" fill="#080808" filter="url(#b08)"/>
<rect x="612.3" y="342.00" width="13.70" height="7" rx="3" fill="#a8a8a8" filter="url(#b15)"/>
<rect x="612.3" y="348.90" width="13.70" height="3.0" rx="1.5" fill="#474747" filter="url(#b08)"/>
<rect x="630.8" y="339.30" width="12.20" height="2.4" rx="1.2" fill="#5a5a5a" filter="url(#b08)"/>
<rect x="630.8" y="343.80" width="12.20" height="3.0" rx="1.5" fill="#202020" filter="url(#b08)"/>
<rect x="630.8" y="347.70" width="12.20" height="3.0" rx="1.5" fill="#202020" filter="url(#b08)"/>
<rect x="631.5" y="356.50" width="11.00" height="2.4" rx="1.2" fill="#a4a4a4" filter="url(#b08)"/>
<rect x="647.6" y="338.90" width="12.20" height="2.6" rx="1.3" fill="#8a8a8a" filter="url(#b08)"/>
<rect x="647.6" y="344.20" width="12.20" height="4.0" rx="2.0" fill="#6a6a6a" filter="url(#b08)"/>
</g>
<rect x="495.5" y="335.5" width="169.7" height="33.1" fill="none" stroke="#222" stroke-width="1.2"/>
<clipPath id="cC"><rect x="495.5" y="382.1" width="170.0" height="31.0"/></clipPath>
<g clip-path="url(#cC)">
<rect x="495.5" y="382.1" width="170.0" height="31.0" fill="#f1f1f1"/>
<rect x="498" y="387.50" width="11.00" height="3" rx="1.5" fill="#e2e2e2" filter="url(#b1)"/>
<path d="M512.2 381 L528.8 381 L528.8 391 C528.8 397 524.5 399.5 520.5 399.5 C516.5 399.5 512.2 397 512.2 391 Z" fill="#828282" filter="url(#b1)"/>
<ellipse cx="520.4" cy="391.5" rx="6.5" ry="5.5" fill="#5e5e5e" opacity="1" filter="url(#b2)"/>
<rect x="516" y="399.00" width="9.00" height="8" rx="3" fill="#e6e6e6" filter="url(#b2)"/>
<rect x="530" y="390.60" width="14.00" height="2.0" rx="1.0" fill="#949494" filter="url(#b08)"/>
<rect x="530" y="393.60" width="14.00" height="2.2" rx="1.1" fill="#444" filter="url(#b08)"/>
<rect x="549" y="384.50" width="16.80" height="5" rx="2.5" fill="#c4c4c4" filter="url(#b1)"/>
<rect x="549" y="390.40" width="16.80" height="3.6" rx="1.8" fill="#7a7a7a" filter="url(#b08)"/>
<rect x="550" y="394.50" width="15.00" height="4" rx="2.0" fill="#e2e2e2" filter="url(#b1)"/>
<ellipse cx="576" cy="389" rx="5" ry="3" fill="#fafafa" opacity="1" filter="url(#b1)"/>
<rect x="573" y="389.20" width="15.00" height="2.0" rx="1.0" fill="#888" filter="url(#b08)"/>
<g transform="rotate(2.00 580.40 394.50)"><rect x="572.5" y="393.00" width="15.80" height="3.0" rx="1.5" fill="#0a0a0a" filter="url(#b08)"/></g>
<rect x="592.2" y="384.30" width="13.40" height="5" rx="2.5" fill="#bcbcbc" filter="url(#b1)"/>
<rect x="592.2" y="389.10" width="13.40" height="4.2" rx="2.1" fill="#777" filter="url(#b08)"/>
<rect x="593" y="393.80" width="12.00" height="4" rx="2.0" fill="#dedede" filter="url(#b1)"/>
<rect x="609.5" y="389.50" width="14.50" height="1.8" rx="0.9" fill="#949494" filter="url(#b08)"/>
<rect x="609.5" y="392.10" width="14.50" height="2.6" rx="1.3" fill="#2a2a2a" filter="url(#b08)"/>
<rect x="628" y="383.90" width="14.30" height="5" rx="2.5" fill="#c0c0c0" filter="url(#b1)"/>
<rect x="628" y="388.70" width="14.30" height="4.2" rx="2.1" fill="#7a7a7a" filter="url(#b08)"/>
<rect x="629" y="393.30" width="12.50" height="4" rx="2.0" fill="#e0e0e0" filter="url(#b1)"/>
<g transform="rotate(-3.00 653.40 387.50)"><rect x="647" y="386.65" width="12.80" height="1.7" rx="0.85" fill="#8e8e8e" filter="url(#b05)"/></g>
<g transform="rotate(-3.00 653.40 390.70)"><rect x="647" y="389.85" width="12.80" height="1.7" rx="0.85" fill="#8e8e8e" filter="url(#b05)"/></g>
<circle cx="653" cy="405.5" r="6" fill="none" stroke="#e2e2e2" stroke-width="1.4" filter="url(#b05)"/>
</g>
<rect x="495.5" y="382.1" width="170.0" height="31.0" fill="none" stroke="#333" stroke-width="1.2"/>
<clipPath id="cP"><rect x="497.4" y="425.5" width="168.1" height="31.6"/></clipPath>
<g clip-path="url(#cP)">
<rect x="497.4" y="425.5" width="168.1" height="31.6" fill="#f4f4f4"/>
<path d="M516 424 L531 424 L531 436 C531 441 527.5 443.5 523.5 443.5 C519.5 443.5 516 441 516 436 Z" fill="#cfcfcf" filter="url(#b1)"/>
<ellipse cx="524.5" cy="434" rx="2.0" ry="1.0" fill="#e2e2e2" opacity="1" filter="url(#b05)"/>
<rect x="532.6" y="436.80" width="14.40" height="3.6" rx="1.8" fill="#3a3a3a" filter="url(#b08)"/>
<rect x="551.8" y="433.45" width="15.60" height="5.5" rx="2.75" fill="#d0d0d0" filter="url(#b1)"/>
<ellipse cx="576" cy="433" rx="5" ry="3" fill="#fbfbfb" opacity="1" filter="url(#b1)"/>
<rect x="574.4" y="437.40" width="14.60" height="4.4" rx="2.2" fill="#0e0e0e" filter="url(#b08)"/>
<ellipse cx="578" cy="443.5" rx="4" ry="2.2" fill="#dcdcdc" opacity="1" filter="url(#b1)"/>
<rect x="595" y="430.00" width="11.30" height="7" rx="3" fill="#e0e0e0" filter="url(#b1)"/>
<rect x="595" y="436.60" width="11.30" height="2.4" rx="1.2" fill="#cccccc" filter="url(#b08)"/>
<rect x="611.0" y="437.60" width="14.50" height="3.6" rx="1.8" fill="#333" filter="url(#b08)"/>
<rect x="630" y="429.50" width="13.00" height="6" rx="3.0" fill="#dcdcdc" filter="url(#b1)"/>
<rect x="630" y="436.10" width="13.00" height="3.0" rx="1.5" fill="#ababab" filter="url(#b08)"/>
<g transform="rotate(-2.00 653.95 437.60)"><rect x="647.4" y="436.30" width="13.10" height="2.6" rx="1.3" fill="#7a7a7a" filter="url(#b08)"/></g>
</g>
<rect x="497.4" y="425.5" width="168.1" height="31.6" fill="none" stroke="#222" stroke-width="1.2"/>
</svg></body></html>
